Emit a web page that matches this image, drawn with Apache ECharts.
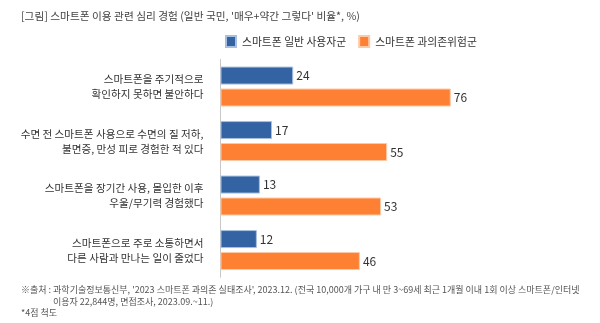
<!DOCTYPE html>
<html><head><meta charset="utf-8">
<script src="https://cdn.jsdelivr.net/npm/echarts@6/dist/echarts.min.js"></script>
<style>html,body{margin:0;padding:0;background:#fff}#c{width:600px;height:323px}</style>
</head><body><div id="c"></div>
<script>
const categories = [
  "스마트폰을 주기적으로\n확인하지 못하면 불안하다",
  "수면 전 스마트폰 사용으로 수면의 질 저하,\n불면증, 만성 피로 경험한 적 있다",
  "스마트폰을 장기간 사용, 몰입한 이후\n우울/무기력 경험했다",
  "스마트폰으로 주로 소통하면서\n다른 사람과 만나는 일이 줄었다"
];
const seriesNames = ["스마트폰 일반 사용자군", "스마트폰 과의존위험군"];
const generalUsers = [24, 17, 13, 12];
const riskGroup = [76, 55, 53, 46];
const titleText = "[그림] 스마트폰 이용 관련 심리 경험 (일반 국민, '매우+약간 그렇다' 비율*, %)";
const noteLines = [
  "※출처 : 과학기술정보통신부, '2023 스마트폰 과의존 실태조사', 2023.12. (전국 10,000개 가구 내 만 3~69세 최근 1개월 이내 1회 이상 스마트폰/인터넷",
  "이용자 22,844명, 면접조사, 2023.09.~11.)",
  "*4점 척도"
];
const FONT = "'Noto Sans CJK KR', 'Noto Sans', sans-serif";
const chart = echarts.init(document.getElementById('c'), null, {renderer: 'canvas'});
chart.setOption({
  animation: false,
  textStyle: {fontFamily: FONT},
  grid: {left: 220.5, top: 59.3, width: 303, height: 218},
  legend: {
    left: 225, top: 35, padding: 0, itemWidth: 10, itemHeight: 11, itemGap: 12, icon: 'rect',
    textStyle: {fontSize: 10.8, color: '#333', fontFamily: FONT, padding: [0, 0, 0, 1]},
    data: seriesNames
  },
  xAxis: {type: 'value', min: 0, max: 100, show: false},
  yAxis: {
    type: 'category', inverse: true, data: categories,
    axisLine: {show: true, lineStyle: {color: '#c8c8c8', width: 1}},
    axisTick: {show: false},
    axisLabel: {fontSize: 10.6, lineHeight: 15, color: '#333', margin: 17, align: 'right', fontFamily: FONT}
  },
  series: [
    {name: seriesNames[0], type: 'bar', data: generalUsers, barWidth: 18, barGap: '22%',
     itemStyle: {color: '#3463a4', borderColor: '#a9bfe0', borderWidth: 1},
     label: {show: true, position: 'right', distance: 3, fontSize: 12, color: '#333', fontFamily: FONT}},
    {name: seriesNames[1], type: 'bar', data: riskGroup, barWidth: 18,
     itemStyle: {color: '#fe8133', borderColor: '#fdc9a6', borderWidth: 1},
     label: {show: true, position: 'right', distance: 3, fontSize: 12, color: '#333', fontFamily: FONT}}
  ],
  graphic: [
    {type: 'text', left: 21, top: 11, style: {text: titleText, fontSize: 10.7, fill: '#444', fontFamily: FONT}},
    {type: 'text', left: 21, top: 285, style: {text: noteLines[0], fontSize: 9, fill: '#555', fontFamily: FONT}},
    {type: 'text', left: 53, top: 297, style: {text: noteLines[1], fontSize: 9, fill: '#555', fontFamily: FONT}},
    {type: 'text', left: 21, top: 308, style: {text: noteLines[2], fontSize: 9, fill: '#555', fontFamily: FONT}}
  ]
});
</script></body></html>
